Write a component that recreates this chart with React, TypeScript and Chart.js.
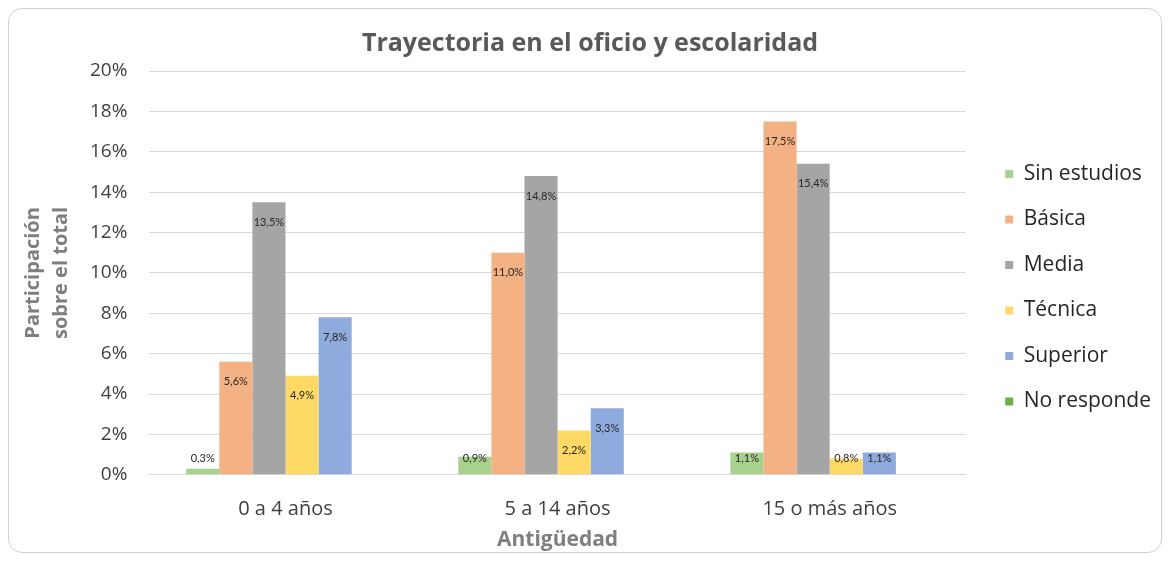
import { useEffect, useRef } from 'react';
import { Chart, registerables } from 'chart.js';

Chart.register(...registerables);

const categories = ['0 a 4 años', '5 a 14 años', '15 o más años'];
const seriesNames = ['Sin estudios', 'Básica', 'Media', 'Técnica', 'Superior', 'No responde'];
const sinEstudios = [0.3, 0.9, 1.1];
const basica = [5.6, 11.0, 17.5];
const media = [13.5, 14.8, 15.4];
const tecnica = [4.9, 2.2, 0.8];
const superior = [7.8, 3.3, 1.1];
const noResponde = [0, 0, 0];
const seriesColors = ['#a9d18e', '#f4b183', '#a5a5a5', '#ffd966', '#8faadc', '#70ad47'];
const yMax = 20;
const yStep = 2;

const FONT = '"Open Sans"';

const barLabels = {
  id: 'barLabels',
  afterDatasetsDraw(chart: any) {
    const ctx = chart.ctx;
    ctx.save();
    ctx.font = `11px Lato`;
    ctx.fillStyle = '#262626';
    ctx.textAlign = 'center';
    ctx.textBaseline = 'middle';
    chart.data.datasets.forEach((ds: any, i: number) => {
      const meta = chart.getDatasetMeta(i);
      meta.data.forEach((el: any, j: number) => {
        const v = ds.data[j];
        if (!v) return;
        const y = Math.min(el.y + 20, el.base - 16);
        ctx.fillText(v.toFixed(1).replace('.', ',') + '%', el.x, y);
      });
    });
    ctx.restore();
  },
};

export default function App() {
  const ref = useRef<HTMLCanvasElement>(null);
  useEffect(() => {
    if (!ref.current) return;
    const values = [sinEstudios, basica, media, tecnica, superior, noResponde];
    const chart = new Chart(ref.current, {
      type: 'bar',
      data: {
        labels: categories,
        datasets: seriesNames.map((name, i) => ({
          label: name,
          data: values[i],
          backgroundColor: seriesColors[i],
          borderWidth: 0,
          categoryPercentage: 0.73,
          barPercentage: 1,
        })),
      },
      options: {
        animation: false,
        responsive: true,
        maintainAspectRatio: false,
        layout: { padding: { top: 12, right: 0, bottom: 0, left: 10 } },
        plugins: {
          tooltip: { enabled: false },
          title: {
            display: true,
            text: 'Trayectoria en el oficio y escolaridad',
            color: '#595959',
            font: { family: FONT, size: 25, weight: 'bold' },
            padding: { top: 8, bottom: 12 },
          },
          legend: {
            position: 'right',
            title: { display: true, text: ' ', font: { size: 2 }, padding: 0 },
            labels: {
              boxWidth: 8,
              boxHeight: 8,
              padding: 24.5,
              color: '#262626',
              font: { family: FONT, size: 21 },
            },
          },
        },
        scales: {
          x: {
            grid: { display: false, drawTicks: false },
            border: { color: '#d9d9d9' },
            ticks: { color: '#404040', padding: 22, font: { family: FONT, size: 20 } },
            title: {
              display: true,
              text: 'Antigüedad',
              color: '#7f7f7f',
              font: { family: FONT, size: 21, weight: 'bold' },
              padding: { top: -15, bottom: -1 },
            },
          },
          y: {
            min: 0,
            max: yMax,
            grid: { color: '#d9d9d9', drawTicks: false },
            border: { display: false },
            ticks: {
              stepSize: yStep,
              color: '#404040',
              padding: 22,
              font: { family: FONT, size: 19 },
              callback: (v: any) => v + '%',
            },
            title: {
              display: true,
              text: ['Participación', 'sobre el total'],
              color: '#7f7f7f',
              font: { family: FONT, size: 20, weight: 'bold', lineHeight: 1.4 },
              padding: { top: 0, bottom: -7 },
            },
          },
          spacer: {
            type: 'linear',
            position: 'right',
            display: true,
            grid: { display: false, drawTicks: false },
            border: { display: false },
            ticks: { display: false },
            afterFit: (s: any) => {
              s.width = 15;
            },
          },
        },
      },
      plugins: [barLabels],
    });
    return () => chart.destroy();
  }, []);
  return (
    <div
      style={{
        width: 1154,
        height: 545,
        border: '1px solid #d0d0d0',
        borderRadius: 14,
        boxSizing: 'border-box',
        position: 'relative',
        background: '#fff',
      }}
    >
      <canvas ref={ref} />
    </div>
  );
}
